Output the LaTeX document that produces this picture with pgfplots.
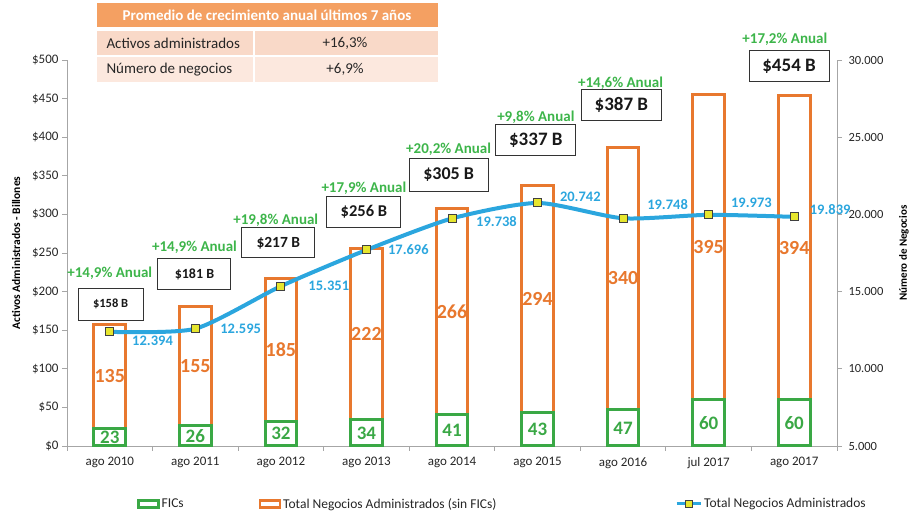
\documentclass[border=0pt]{standalone}
\usepackage{pgfplots}
\pgfplotsset{compat=1.18}
\usepackage{fontspec}
\setmainfont{Carlito}
\definecolor{cOr}{HTML}{E8782E}
\definecolor{cGr}{HTML}{3AA845}
\definecolor{cGt}{HTML}{3DB54A}
\definecolor{cBl}{HTML}{2BA6DE}
\definecolor{cYl}{HTML}{E6E62E}
\definecolor{cHd}{HTML}{F4A062}
\definecolor{cR1}{HTML}{F9D9C8}
\definecolor{cR2}{HTML}{FCE8DE}
\definecolor{cAx}{HTML}{A6A6A6}
\newcommand\fs[1]{\fontsize{#1}{#1}\selectfont}
\tikzset{
  olab/.style={font=\bfseries\fs{20}, text=cOr},
  glab/.style={font=\bfseries\fs{19}, text=cGr},
  tbox/.style={draw=black!80, line width=1pt, fill=white, inner sep=0pt, text=black!90},
  anual/.style={font=\bfseries\fs{15}, text=cGt},
  blab/.style={font=\bfseries\fs{14.5}, text=cBl},
}
\begin{document}
\begin{tikzpicture}[font=\fs{13}]
\path[use as bounding box] (-67pt,-70pt) rectangle (843pt,446pt);
\begin{axis}[
  at={(0pt,0pt)}, anchor=south west,
  scale only axis, width=770pt, height=386pt,
  xmin=-0.5, xmax=8.5, ymin=0, ymax=500,
  clip=false,
  axis x line*=bottom, axis y line*=left,
  axis line style={-, cAx, line width=0.8pt},
  tick style={cAx, line width=0.8pt},
  tick align=outside, major tick length=5pt,
  ybar, bar width=0.37,
  xtick={-0.5,0.5,...,8.5},
  x tick label as interval,
  xticklabels={ago 2010,ago 2011,ago 2012,ago 2013,ago 2014,ago 2015,ago 2016,jul 2017,ago 2017},
  xticklabel style={font=\fs{13}, text=black!85, yshift=-3pt},
  ytick={0,50,...,500},
  yticklabels={\$0,\$50,\$100,\$150,\$200,\$250,\$300,\$350,\$400,\$450,\$500},
  yticklabel style={font=\fs{13}, text=black!85},
  ylabel={Activos Administrados - Billones},
  ylabel style={at={(axis description cs:-0.066,0.5)}, anchor=center, font=\bfseries\fs{11.5}},
]
% total (orange outline) then FICs (green) over its base
\addplot[draw=cOr, fill=white, line width=3pt, bar shift=0pt] coordinates {(0,158) (1,181) (2,217) (3,256) (4,307) (5,337) (6,387) (7,455) (8,454)};
\addplot[draw=cGr, fill=white, line width=3pt, bar shift=0pt] coordinates {(0,23) (1,26) (2,32) (3,34) (4,41) (5,43) (6,47) (7,60) (8,60)};
\node[olab] at (axis cs:0,90.5) {135};
\node[olab] at (axis cs:1,103.5) {155};
\node[olab] at (axis cs:2,124.5) {185};
\node[olab] at (axis cs:3,145) {222};
\node[olab] at (axis cs:4,174) {266};
\node[olab] at (axis cs:5,190) {294};
\node[olab] at (axis cs:6,217) {340};
\node[olab] at (axis cs:7,257.5) {395};
\node[olab] at (axis cs:8,257) {394};
\node[glab] at (axis cs:0,11.5) {23};
\node[glab] at (axis cs:1,13) {26};
\node[glab] at (axis cs:2,16) {32};
\node[glab] at (axis cs:3,17) {34};
\node[glab] at (axis cs:4,20.5) {41};
\node[glab] at (axis cs:5,21.5) {43};
\node[glab] at (axis cs:6,23.5) {47};
\node[glab] at (axis cs:7,30) {60};
\node[glab] at (axis cs:8,30) {60};
\node[tbox, minimum width=65pt, minimum height=32pt, font=\bfseries\fs{12.5}] at (axis cs:0.01,183.9) {\$158 B};
\node[tbox, minimum width=73pt, minimum height=31pt, font=\bfseries\fs{14}] at (axis cs:0.99,222.8) {\$181 B};
\node[tbox, minimum width=73pt, minimum height=30pt, font=\bfseries\fs{15.5}] at (axis cs:1.97,263) {\$217 B};
\node[tbox, minimum width=74pt, minimum height=31pt, font=\bfseries\fs{16.5}] at (axis cs:2.97,303) {\$256 B};
\node[tbox, minimum width=79pt, minimum height=33pt, font=\bfseries\fs{18}] at (axis cs:3.96,351) {\$305 B};
\node[tbox, minimum width=80pt, minimum height=31pt, font=\bfseries\fs{19}] at (axis cs:4.98,396) {\$337 B};
\node[tbox, minimum width=80pt, minimum height=31pt, font=\bfseries\fs{19}] at (axis cs:5.98,441.7) {\$387 B};
\node[tbox, minimum width=80pt, minimum height=31pt, font=\bfseries\fs{19}] at (axis cs:7.94,491.6) {\$454 B};
\node[anual] at (axis cs:0.0,224) {+14,9\% Anual};
\node[anual] at (axis cs:0.99,257.8) {+14,9\% Anual};
\node[anual] at (axis cs:1.94,292.7) {+19,8\% Anual};
\node[anual] at (axis cs:2.97,334) {+17,9\% Anual};
\node[anual] at (axis cs:3.96,384.7) {+20,2\% Anual};
\node[anual] at (axis cs:4.98,426) {+9,8\% Anual};
\node[anual] at (axis cs:5.97,470) {+14,6\% Anual};
\node[anual] at (axis cs:7.89,527) {+17,2\% Anual};
\end{axis}
\begin{axis}[
  at={(0pt,0pt)}, anchor=south west,
  scale only axis, width=770pt, height=386pt,
  xmin=-0.5, xmax=8.5, ymin=5000, ymax=30000,
  clip=false,
  axis x line=none, axis y line*=right,
  axis line style={-, cAx, line width=0.8pt},
  tick style={cAx, line width=0.8pt},
  tick align=outside, major tick length=5pt,
  scaled y ticks=false,
  ytick={5000,10000,...,30000},
  yticklabels={5.000,10.000,15.000,20.000,25.000,30.000},
  yticklabel style={font=\fs{12.5}, text=black!85, xshift=3pt},
  ylabel={Número de Negocios},
  ylabel style={at={(axis description cs:1.087,0.5)}, anchor=center, rotate=0, font=\bfseries\fs{11}},
  legend columns=3,
  legend cell align=left,
  legend style={at={(axis description cs:0.0909,-0.150)}, anchor=west, draw=none, fill=none, inner sep=0pt, font=\fs{13.5}, text=black!85,
    nodes={inner xsep=2pt, inner ysep=1pt}},
]
\addlegendimage{legend image code/.code={\draw[draw=cGr, fill=white, line width=2.5pt] (0pt,-3.5pt) rectangle (20pt,3.5pt);}}
\addlegendentry{\makebox[95pt][l]{FICs}}
\addlegendimage{legend image code/.code={\draw[draw=cOr, fill=white, line width=2.5pt] (0pt,-3.5pt) rectangle (20pt,3.5pt);}}
\addlegendentry{\makebox[390pt][l]{Total Negocios Administrados (sin FICs)}}
\addplot[cBl, line width=4pt, smooth, tension=0.4, mark=square*, mark size=4pt,
  mark options={fill=cYl, draw=black!75, line width=1pt, solid},
  legend image code/.code={\draw[cBl, line width=3pt] (0pt,0pt) -- (24pt,0pt); \draw[fill=cYl, draw=black!75, line width=0.8pt] (8.5pt,-3.5pt) rectangle (15.5pt,3.5pt);}]
  coordinates {(0,12394) (1,12595) (2,15351) (3,17696) (4,19738) (5,20742) (6,19748) (7,19973) (8,19839)};
\addlegendentry{Total Negocios Administrados}
\node[blab] at (axis cs:0.50,11801) {12.394};
\node[blab] at (axis cs:1.53,12578) {12.595};
\node[blab] at (axis cs:2.56,15363) {15.351};
\node[blab] at (axis cs:3.49,17695) {17.696};
\node[blab] at (axis cs:4.52,19508) {19.738};
\node[blab] at (axis cs:5.50,21128) {20.742};
\node[blab] at (axis cs:6.52,20610) {19.748};
\node[blab] at (axis cs:7.50,20739) {19.973};
\node[blab] at (axis cs:8.42,20286) {19.839};
\end{axis}
% summary table
\fill[cHd] (30pt,419pt) rectangle (371pt,443pt);
\fill[cR1] (30pt,391pt) rectangle (186pt,415pt);
\fill[cR1] (188pt,391pt) rectangle (371pt,415pt);
\fill[cR2] (30pt,364pt) rectangle (186pt,389pt);
\fill[cR2] (188pt,364pt) rectangle (371pt,389pt);
\node[font=\bfseries\fs{15}, text=white] at (200pt,431pt) {Promedio de crecimiento anual últimos 7 años};
\node[font=\fs{15}, text=black!85, anchor=west] at (36pt,403pt) {Activos administrados};
\node[font=\fs{15}, text=black!85, anchor=west] at (36pt,376.5pt) {Número de negocios};
\node[font=\fs{15}, text=black!85] at (278pt,403pt) {+16,3\%};
\node[font=\fs{15}, text=black!85] at (278pt,376.5pt) {+6,9\%};
\end{tikzpicture}
\end{document}
